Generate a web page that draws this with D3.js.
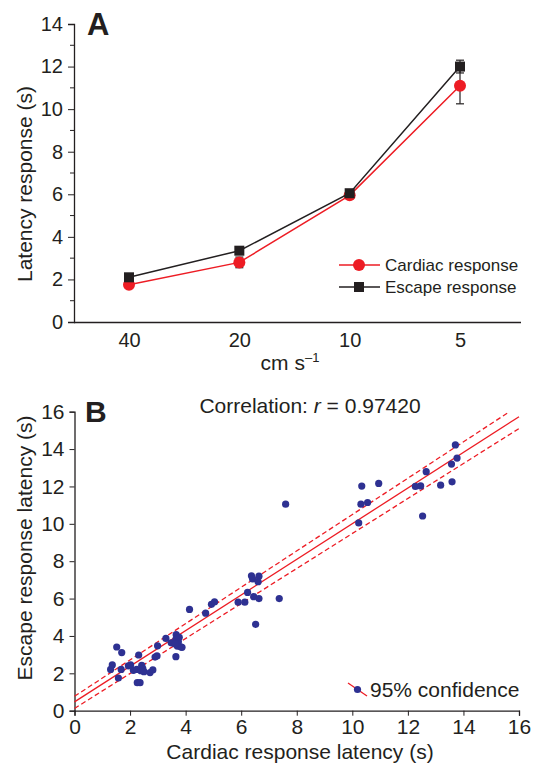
<!DOCTYPE html>
<html>
<head>
<meta charset="utf-8">
<script src="https://cdn.jsdelivr.net/npm/d3@7"></script>
<style>
  body { margin: 0; background: #fff; }
  svg text { font-family: "Liberation Sans", Arial, sans-serif; fill: #231f20; }
</style>
</head>
<body>
<div id="chart"></div>
<script>
// Panel A data
const speeds = ["40", "20", "10", "5"];
const cardiacMean = [1.75, 2.8, 5.95, 11.1];
const cardiacErr = [0.15, 0.25, 0.12, 0.85];
const escapeMean = [2.1, 3.35, 6.05, 12.0];
const escapeErr = [0.08, 0.12, 0.1, 0.3];
const yTicksA = [0, 2, 4, 6, 8, 10, 12, 14];

// Panel B data: [cardiac latency, escape latency]
const latencyPairs = [
  [1.30, 2.21], [1.36, 2.45], [1.52, 3.41], [1.70, 3.11], [1.58, 1.75], [1.68, 2.21],
  [1.94, 2.40], [2.02, 2.45], [2.12, 2.16], [2.24, 2.21], [2.31, 2.98], [2.26, 1.50],
  [2.36, 1.50], [2.42, 2.43], [2.46, 2.25], [2.39, 2.14], [2.50, 2.09], [2.72, 2.04],
  [2.82, 2.18], [2.90, 2.87], [2.97, 2.93], [2.99, 3.47], [3.29, 3.87], [3.48, 3.63],
  [3.66, 4.07], [3.65, 3.82], [3.74, 3.69], [3.70, 3.46], [3.82, 3.42], [3.87, 3.39],
  [3.65, 2.89], [3.62, 3.57], [3.77, 3.93],
  [4.14, 5.42], [4.72, 5.22], [4.93, 5.69], [5.04, 5.82], [5.89, 5.81], [6.13, 5.81],
  [6.23, 6.33], [6.37, 7.22], [6.41, 7.05], [6.64, 7.20], [6.61, 6.90], [6.45, 6.10],
  [6.64, 6.00], [6.52, 4.62], [7.37, 6.00], [7.60, 11.05],
  [10.34, 12.02], [10.95, 12.16], [10.31, 11.05], [10.55, 11.14], [10.23, 10.05],
  [12.27, 12.00], [12.46, 12.03], [12.66, 12.79], [12.53, 10.42], [13.18, 12.07],
  [13.59, 12.25], [13.57, 13.20], [13.77, 13.52], [13.71, 14.22]
];
// regression line and 95% band end points [x0, y0, x1, y1]
const fitLine = [0, 0.47, 16, 15.73];
const bandUpper = [0, 0.77, 15.66, 16.0];
const bandLower = [0, 0.12, 16, 15.1];
const ticksB = [0, 2, 4, 6, 8, 10, 12, 14, 16];

const red = "#ed1c24", ink = "#231f20", navy = "#2e3192";

const svg = d3.select("#chart").append("svg")
  .attr("width", 534).attr("height", 768);

// ---------- Panel A ----------
const xA = d3.scalePoint().domain(speeds).range([129, 460]);
const yA = d3.scaleLinear().domain([0, 14]).range([322, 24]);

const axA = svg.append("g").attr("transform", "translate(74,0)")
  .call(d3.axisLeft(yA).tickValues(yTicksA).tickSize(6).tickPadding(5).tickFormat(d3.format("d")));
axA.selectAll("text").style("font-size", "20px");
// minor ticks
svg.append("g").selectAll("line")
  .data(d3.range(1, 14, 2)).enter().append("line")
  .attr("x1", 70).attr("x2", 74)
  .attr("y1", d => yA(d)).attr("y2", d => yA(d))
  .attr("stroke", ink);

svg.append("g").attr("transform", "translate(0,322)")
  .call(d3.axisBottom(xA).tickSize(0).tickPadding(11))
  .call(g => g.select(".domain").attr("d", "M74,0.5H521"))
  .selectAll("text").style("font-size", "20px");
svg.selectAll(".domain").attr("stroke", ink).attr("stroke-width", 1.3);
svg.selectAll(".tick line").attr("stroke", ink);
svg.selectAll(".tick text").style("fill", ink);

const lineA = d3.line().x((d, i) => xA(speeds[i])).y(d => yA(d));

function errBars(means, errs) {
  const g = svg.append("g");
  means.forEach((m, i) => {
    const x = xA(speeds[i]);
    g.append("line").attr("x1", x).attr("x2", x)
      .attr("y1", yA(m - errs[i])).attr("y2", yA(m + errs[i]))
      .attr("stroke", ink).attr("stroke-width", 1.2);
    [m - errs[i], m + errs[i]].forEach(v => g.append("line")
      .attr("x1", x - 4).attr("x2", x + 4).attr("y1", yA(v)).attr("y2", yA(v))
      .attr("stroke", ink).attr("stroke-width", 1.2));
  });
}
errBars(cardiacMean, cardiacErr);
errBars(escapeMean, escapeErr);

svg.append("path").datum(cardiacMean).attr("d", lineA)
  .attr("fill", "none").attr("stroke", red).attr("stroke-width", 1.5);
svg.append("g").selectAll("circle").data(cardiacMean).enter().append("circle")
  .attr("cx", (d, i) => xA(speeds[i])).attr("cy", d => yA(d)).attr("r", 6).attr("fill", red);

svg.append("path").datum(escapeMean).attr("d", lineA)
  .attr("fill", "none").attr("stroke", ink).attr("stroke-width", 1.5);
svg.append("g").selectAll("rect").data(escapeMean).enter().append("rect")
  .attr("x", (d, i) => xA(speeds[i]) - 5).attr("y", d => yA(d) - 5)
  .attr("width", 10).attr("height", 10).attr("fill", ink);

// legend A
const legA = svg.append("g");
legA.append("line").attr("x1", 339).attr("x2", 380).attr("y1", 265).attr("y2", 265).attr("stroke", red).attr("stroke-width", 1.5);
legA.append("circle").attr("cx", 359).attr("cy", 265).attr("r", 6).attr("fill", red);
legA.append("text").attr("x", 385).attr("y", 271).style("font-size", "17px").text("Cardiac response");
legA.append("line").attr("x1", 339).attr("x2", 380).attr("y1", 287).attr("y2", 287).attr("stroke", ink).attr("stroke-width", 1.5);
legA.append("rect").attr("x", 354).attr("y", 282).attr("width", 10).attr("height", 10).attr("fill", ink);
legA.append("text").attr("x", 385).attr("y", 293).style("font-size", "17px").text("Escape response");

svg.append("text").attr("x", 87).attr("y", 35).style("font-size", "31px").style("font-weight", "bold").text("A");
svg.append("text").attr("transform", "translate(32,184) rotate(-90)").attr("text-anchor", "middle")
  .style("font-size", "21px").text("Latency response (s)");
const cmLab = svg.append("text").attr("x", 290).attr("y", 370).attr("text-anchor", "middle").style("font-size", "21px");
cmLab.append("tspan").text("cm s");
cmLab.append("tspan").attr("dy", -8).style("font-size", "13px").text("\u20131");

// ---------- Panel B ----------
const xB = d3.scaleLinear().domain([0, 16]).range([74.5, 519]);
const yB = d3.scaleLinear().domain([0, 16]).range([710.7, 411.7]);

const gxB = svg.append("g").attr("transform", "translate(0,710.7)")
  .call(d3.axisBottom(xB).tickValues(ticksB).tickSize(5).tickPadding(3));
const gyB = svg.append("g").attr("transform", "translate(74.5,0)")
  .call(d3.axisLeft(yB).tickValues(ticksB).tickSize(5).tickPadding(5));
[gxB, gyB].forEach(g => {
  g.select(".domain").attr("stroke", ink).attr("stroke-width", 1.3);
  g.selectAll(".tick line").attr("stroke", ink);
  g.selectAll("text").style("font-size", "21px").style("fill", ink);
});

const segLine = (s, dash) => svg.append("line")
  .attr("x1", xB(s[0])).attr("y1", yB(s[1])).attr("x2", xB(s[2])).attr("y2", yB(s[3]))
  .attr("stroke", red).attr("stroke-width", 1.3).attr("stroke-dasharray", dash);
segLine(bandUpper, "5,3");
segLine(bandLower, "5,3");
segLine(fitLine, null);

svg.append("g").selectAll("circle").data(latencyPairs).enter().append("circle")
  .attr("cx", d => xB(d[0])).attr("cy", d => yB(d[1])).attr("r", 3.6).attr("fill", navy);

svg.append("text").attr("x", 85).attr("y", 422).style("font-size", "30px").style("font-weight", "bold").text("B");
const corr = svg.append("text").attr("x", 310).attr("y", 413).attr("text-anchor", "middle").style("font-size", "21px");
corr.append("tspan").text("Correlation: ");
corr.append("tspan").style("font-style", "italic").text("r");
corr.append("tspan").text(" = 0.97420");

svg.append("line").attr("x1", 348).attr("y1", 683).attr("x2", 367).attr("y2", 696).attr("stroke", red).attr("stroke-width", 1.3);
svg.append("circle").attr("cx", 357.5).attr("cy", 689.5).attr("r", 3.6).attr("fill", navy);
svg.append("text").attr("x", 370).attr("y", 697).style("font-size", "21px").text("95% confidence");

svg.append("text").attr("transform", "translate(32,548) rotate(-90)").attr("text-anchor", "middle")
  .style("font-size", "21px").text("Escape response latency (s)");
svg.append("text").attr("x", 300).attr("y", 759).attr("text-anchor", "middle")
  .style("font-size", "21px").text("Cardiac response latency (s)");
</script>
</body>
</html>
